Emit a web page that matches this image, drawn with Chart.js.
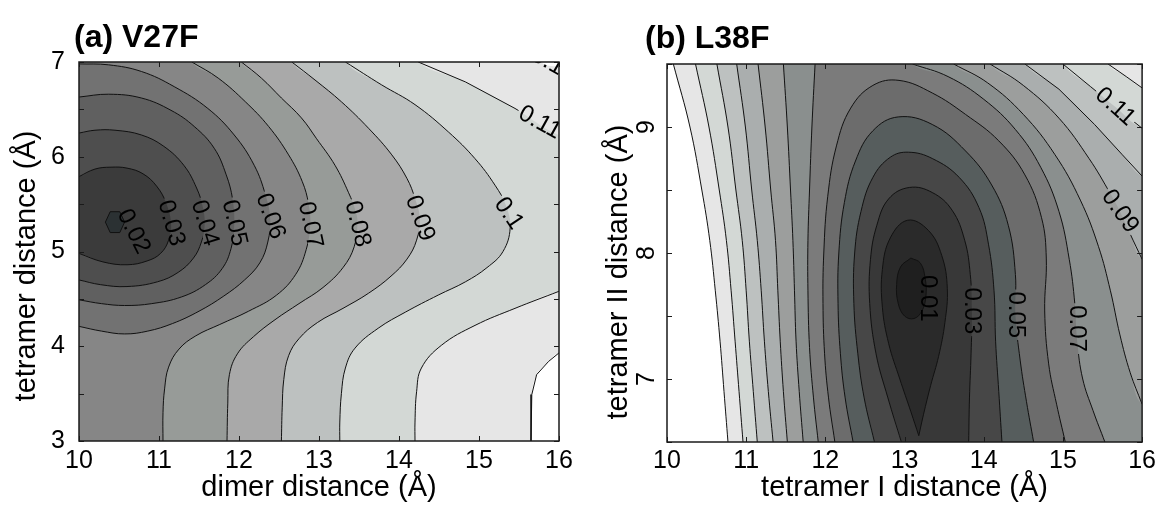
<!DOCTYPE html>
<html>
<head>
<meta charset="utf-8">
<title>V27F / L38F free-energy maps</title>
<script src="https://cdn.jsdelivr.net/npm/chart.js@4.4.1/dist/chart.umd.min.js"></script>
<style>
  html, body { margin: 0; padding: 0; background: #fff; }
  .panels { position: relative; width: 1160px; height: 505px; }
  .panels canvas { position: absolute; top: 0; }
</style>
</head>
<body>
<div class="panels">
  <canvas id="v27f" width="580" height="505" style="left:0"></canvas>
  <canvas id="l38f" width="580" height="505" style="left:580px"></canvas>
</div>
<script>
const FONT = '"Liberation Sans", Arial, Helvetica, sans-serif'

// ---- (a) V27F: dimer distance vs tetramer distance ----
const levelsA = [0.02, 0.03, 0.04, 0.05, 0.06, 0.07, 0.08, 0.09, 0.1, 0.11, 0.12]
const shadesA = ['#2b3133', '#3b3b3b', '#4e4e4e', '#606060', '#727272', '#868686',
  '#979b98', '#a9a9a9', '#bdc1c0', '#d3d8d5', '#e6e6e6']

const a02 = [[10.33, 5.31], [10.39, 5.42], [10.51, 5.42], [10.57, 5.31], [10.51, 5.2], [10.39, 5.2], [10.33, 5.31]]
const a03 = [[10, 5.79], [10.2, 5.87], [10.4, 5.89], [10.6, 5.88], [10.8, 5.82], [10.97, 5.69], [11.09, 5.51],
  [11.15, 5.3], [11.12, 5.12], [11.02, 4.98], [10.85, 4.9], [10.6, 4.86], [10.3, 4.89], [10, 4.98]]
const a04 = [[10, 6.25], [10.2, 6.28], [10.45, 6.28], [10.78, 6.23], [11.06, 6.11], [11.31, 5.91], [11.47, 5.67],
  [11.55, 5.46], [11.57, 5.28], [11.53, 5.1], [11.43, 4.93], [11.24, 4.78], [10.98, 4.68], [10.6, 4.63],
  [10.27, 4.65], [10, 4.7]]
const a05 = [[10, 6.63], [10.37, 6.66], [10.78, 6.62], [11.15, 6.49], [11.44, 6.32], [11.69, 6.09], [11.84, 5.81],
  [11.92, 5.55], [11.94, 5.28], [11.9, 5.03], [11.79, 4.82], [11.58, 4.65], [11.28, 4.52], [10.91, 4.45],
  [10.57, 4.43], [10.28, 4.45], [10, 4.49]]
const a06 = [[10, 6.98], [10.37, 6.97], [10.78, 6.9], [11.19, 6.74], [11.61, 6.51], [11.94, 6.23], [12.19, 5.91],
  [12.33, 5.6], [12.39, 5.35], [12.36, 5.1], [12.26, 4.88], [12.07, 4.7], [11.81, 4.53], [11.5, 4.37],
  [11.17, 4.24], [10.86, 4.16], [10.57, 4.13], [10.28, 4.16], [10, 4.21]]
const a07 = [[11.41, 7], [11.74, 6.83], [12.08, 6.58], [12.37, 6.32], [12.62, 6.02], [12.79, 5.74], [12.87, 5.5],
  [12.89, 5.28], [12.84, 5.02], [12.71, 4.76], [12.47, 4.54], [12.12, 4.37], [11.76, 4.23], [11.46, 4.11],
  [11.25, 3.97], [11.12, 3.78], [11.07, 3.55], [11.05, 3.3], [11.05, 3]]
const a08 = [[12.03, 7], [12.28, 6.83], [12.53, 6.62], [12.78, 6.41], [12.97, 6.19], [13.2, 5.91], [13.37, 5.62],
  [13.46, 5.42], [13.48, 5.29], [13.44, 5.05], [13.3, 4.83], [13.05, 4.62], [12.75, 4.45], [12.45, 4.28],
  [12.18, 4.1], [11.98, 3.92], [11.88, 3.7], [11.86, 3.4], [11.85, 3]]
const a09 = [[12.66, 7], [12.95, 6.81], [13.28, 6.58], [13.62, 6.3], [13.91, 6.02], [14.1, 5.77], [14.2, 5.56],
  [14.26, 5.35], [14.22, 5.12], [14.1, 4.92], [13.9, 4.74], [13.62, 4.56], [13.3, 4.4], [12.98, 4.25],
  [12.75, 4.08], [12.62, 3.9], [12.56, 3.65], [12.54, 3.35], [12.53, 3]]
const a10 = [[13.33, 7], [13.78, 6.76], [14.2, 6.55], [14.62, 6.26], [14.95, 5.98], [15.2, 5.7], [15.34, 5.48],
  [15.39, 5.25], [15.3, 5.0], [15.1, 4.83], [14.83, 4.68], [14.49, 4.54], [14.08, 4.36], [13.74, 4.19],
  [13.45, 3.98], [13.33, 3.77], [13.28, 3.5], [13.26, 3.2], [13.26, 3]]
const a11top = [[14.24, 7], [14.83, 6.79], [15.45, 6.51], [16, 6.23]]
const a11low = [[16, 4.58], [15.45, 4.4], [14.95, 4.22], [14.53, 4.01], [14.28, 3.77], [14.22, 3.52], [14.2, 3.2], [14.2, 3]]
const a12top = [[15.78, 7], [16, 6.95]]
const a12low = [[16, 3.93], [15.87, 3.84], [15.72, 3.7], [15.66, 3.49], [15.65, 3.2], [15.65, 3]]

const piecesA = [[a02], [a03], [a04], [a05], [a06], [a07], [a08], [a09], [a10], [a11top, a11low], [a12top, a12low]]

const labelTextA = ['0.02', '0.03', '0.04', '0.05', '0.06', '0.07', '0.08', '0.09', '0.1', '0.11', '0.12']
const labelAtA = [[10.68, 5.21], [11.15, 5.3], [11.57, 5.3], [11.94, 5.3], [12.39, 5.37], [12.89, 5.28],
  [13.48, 5.29], [14.26, 5.35], [15.37, 5.4], [15.76, 6.36], [15.93, 6.97]]
const labelTiltA = [63, 74, 73, 77, 70, 78, 76, 70, 56, 29, 30]

// ---- (b) L38F: tetramer I distance vs tetramer II distance ----
const levelsB = [0.01, 0.02, 0.03, 0.04, 0.05, 0.06, 0.07, 0.08, 0.09, 0.1, 0.11, 0.12, 0.13]
const shadesB = ['#1f1f1f', '#2a2a2a', '#383838', '#474747', '#565d5d', '#6c6c6c', '#7b7b7b',
  '#8a8f8e', '#9c9e9d', '#aaaeae', '#bdc1c0', '#d3d8d5', '#e6e6e6']

const b01 = [[13.08, 7.96], [13.2, 7.92], [13.26, 7.8], [13.27, 7.66], [13.22, 7.54], [13.12, 7.48], [13.0, 7.5],
  [12.92, 7.6], [12.9, 7.75], [12.95, 7.89], [13.08, 7.96]]
const b02 = [[13.18, 6.55], [13.24, 6.72], [13.33, 6.95], [13.43, 7.18], [13.51, 7.45], [13.54, 7.72], [13.47, 7.98],
  [13.3, 8.18], [13.04, 8.26], [12.82, 8.12], [12.72, 7.87], [12.72, 7.57], [12.8, 7.28], [12.94, 7.0],
  [13.08, 6.74], [13.18, 6.55]]
const b03 = [[12.96, 6.5], [12.79, 6.85], [12.64, 7.2], [12.56, 7.6], [12.57, 7.95], [12.65, 8.22], [12.8, 8.43],
  [13.06, 8.52], [13.35, 8.48], [13.6, 8.34], [13.76, 8.1], [13.83, 7.83], [13.85, 7.54], [13.84, 7.2],
  [13.82, 6.85], [13.81, 6.5]]
const b04 = [[12.62, 6.5], [12.49, 6.85], [12.41, 7.2], [12.36, 7.6], [12.37, 8.0], [12.45, 8.33], [12.6, 8.6],
  [12.82, 8.76], [13.05, 8.8], [13.35, 8.75], [13.69, 8.6], [13.94, 8.36], [14.06, 8.07], [14.13, 7.7],
  [14.15, 7.3], [14.19, 6.9], [14.23, 6.5]]
const b05 = [[12.35, 6.5], [12.25, 6.85], [12.19, 7.2], [12.16, 7.6], [12.17, 8.0], [12.24, 8.4], [12.38, 8.73],
  [12.6, 8.97], [12.92, 9.08], [13.35, 9.02], [13.77, 8.81], [14.1, 8.54], [14.31, 8.22], [14.4, 7.83],
  [14.4, 7.51], [14.46, 7.15], [14.54, 6.82], [14.63, 6.5]]
const b06 = [[12.12, 6.5], [12.04, 6.85], [11.99, 7.2], [11.97, 7.6], [11.98, 8.0], [12.03, 8.45], [12.14, 8.85],
  [12.32, 9.15], [12.6, 9.33], [12.93, 9.37], [13.35, 9.27], [13.77, 9.1], [14.19, 8.89], [14.52, 8.62],
  [14.73, 8.28], [14.79, 7.96], [14.77, 7.54], [14.82, 7.12], [14.92, 6.8], [15.03, 6.5]]
const b07left = [[11.91, 6.5], [11.85, 6.85], [11.8, 7.25], [11.78, 7.7], [11.78, 8.1], [11.8, 8.5], [11.83, 9.0], [11.87, 9.5]]
const b07right = [[13.1, 9.5], [13.55, 9.4], [14.0, 9.22], [14.4, 8.98], [14.72, 8.68], [14.95, 8.33], [15.08, 7.95],
  [15.15, 7.6], [15.18, 7.3], [15.25, 7.0], [15.38, 6.75], [15.53, 6.5]]
const b08left = [[11.72, 6.5], [11.67, 6.9], [11.63, 7.3], [11.61, 7.7], [11.59, 8.1], [11.56, 8.5], [11.52, 9.0], [11.47, 9.5]]
const b08right = [[13.62, 9.5], [14.05, 9.35], [14.5, 9.1], [14.9, 8.78], [15.22, 8.42], [15.45, 8.05], [15.6, 7.7],
  [15.72, 7.35], [15.85, 7.05], [16, 6.8]]
const b09left = [[11.52, 6.5], [11.47, 6.9], [11.43, 7.3], [11.4, 7.7], [11.37, 8.1], [11.31, 8.5], [11.24, 9.0], [11.15, 9.5]]
const b09right = [[14.08, 9.5], [14.5, 9.33], [14.95, 9.07], [15.33, 8.75], [15.6, 8.47], [15.72, 8.33], [15.85, 8.15], [16, 7.95]]
const b10left = [[11.34, 6.5], [11.28, 6.9], [11.23, 7.3], [11.19, 7.7], [11.14, 8.1], [11.07, 8.5], [10.99, 9.0], [10.88, 9.5]]
const b10right = [[14.52, 9.5], [14.95, 9.3], [15.4, 9.02], [15.75, 8.78], [16, 8.61]]
const b11left = [[11.14, 6.5], [11.09, 6.9], [11.04, 7.3], [11.0, 7.7], [10.95, 8.1], [10.87, 8.5], [10.77, 9.0], [10.63, 9.5]]
const b11right = [[15.0, 9.5], [15.35, 9.32], [15.66, 9.16], [16, 8.99]]
const b12left = [[10.96, 6.5], [10.91, 6.9], [10.86, 7.3], [10.81, 7.7], [10.75, 8.1], [10.66, 8.5], [10.53, 9.0], [10.36, 9.5]]
const b12right = [[15.57, 9.5], [15.8, 9.4], [16, 9.31]]
const b13left = [[10.77, 6.5], [10.72, 6.9], [10.67, 7.3], [10.61, 7.7], [10.54, 8.1], [10.44, 8.5], [10.29, 9.0], [10.08, 9.5]]

const piecesB = [[b01], [b02], [b03], [b04], [b05], [b06], [b07left, b07right], [b08left, b08right],
  [b09left, b09right], [b10left, b10right], [b11left, b11right], [b12left, b12right], [b13left]]

const labelTextB = ['0.01', '0.03', '0.05', '0.07', '0.09', '0.11']
const labelAtB = [[13.29, 7.64], [13.85, 7.54], [14.4, 7.51], [15.17, 7.4], [15.72, 8.33], [15.66, 9.16]]
const labelTiltB = [90, 90, 90, 90, 55, 42]

// ---- contour regions ----
// Position along the frame, clockwise from the lower-left corner (0..4).
function edgeParam([x, y], { x0, x1, y0, y1 }) {
  if (x === x0) return (y - y0) / (y1 - y0)
  if (y === y1) return 1 + (x - x0) / (x1 - x0)
  if (x === x1) return 2 + (y1 - y) / (y1 - y0)
  return 3 + (x1 - x) / (x1 - x0)
}

function pushOut([x, y], { x0, x1, y0, y1 }) {
  const mx = (x1 - x0) * 0.05
  const my = (y1 - y0) * 0.05
  if (x === x0) return [x0 - mx, y]
  if (y === y1) return [x, y1 + my]
  if (x === x1) return [x1 + mx, y]
  return [x, y0 - my]
}

function cornerOut(c, { x0, x1, y0, y1 }) {
  const mx = (x1 - x0) * 0.05
  const my = (y1 - y0) * 0.05
  return [[x0 - mx, y0 - my], [x0 - mx, y1 + my], [x1 + mx, y1 + my], [x1 + mx, y0 - my]][c]
}

function isClosed(p) {
  const a = p[0]
  const b = p[p.length - 1]
  return p.length > 2 && a[0] === b[0] && a[1] === b[1]
}

// Everything below a level. Open pieces run with the low side on their right,
// so each outline carries on clockwise along the frame to the next piece.
function regionOf(pieces, box) {
  const polys = pieces.filter(isClosed).map(p => p.slice())
  const open = pieces.filter(p => !isClosed(p))
  const used = new Set()
  open.forEach((_, i) => {
    if (used.has(i)) return
    const poly = []
    let k = i
    while (!used.has(k)) {
      used.add(k)
      const piece = open[k]
      const end = piece[piece.length - 1]
      poly.push(pushOut(piece[0], box), ...piece, pushOut(end, box))
      const s = edgeParam(end, box)
      let next = k
      let gap = 4
      open.forEach((q, j) => {
        const d = (edgeParam(q[0], box) - s + 4) % 4
        if (d < gap) { gap = d; next = j }
      })
      for (let c = Math.floor(s) + 1; c < s + gap; c++) poly.push(cornerOut(c % 4, box))
      k = next
    }
    polys.push(poly)
  })
  return polys
}

// ---- plugins ----
// Inline contour labels: the matching line is cut where its label sits.
function labelPlugin(text, at, tilt) {
  const boxes = chart => {
    const { ctx, scales: { x, y } } = chart
    ctx.save()
    ctx.font = `24px ${FONT}`
    const out = text.map((t, i) => ({
      text: t,
      level: parseFloat(t),
      cx: x.getPixelForValue(at[i][0]),
      cy: y.getPixelForValue(at[i][1]),
      angle: tilt[i] * Math.PI / 180,
      w: ctx.measureText(t).width + 4,
    }))
    ctx.restore()
    return out
  }
  let clipped = false

  return {
    id: 'contourLabels',
    beforeDatasetDraw(chart, args) {
      const ds = chart.data.datasets[args.index]
      clipped = false
      if (ds.fill === 'shape' || ds.closed) return
      const cuts = boxes(chart).filter(b => b.level === ds.level)
      if (!cuts.length) return
      const { ctx, width, height } = chart
      ctx.save()
      ctx.beginPath()
      ctx.rect(0, 0, width, height)
      for (const b of cuts) {
        const c = Math.cos(b.angle)
        const s = Math.sin(b.angle)
        const hw = b.w / 2
        const hh = 6
        const pts = [[-hw, -hh], [hw, -hh], [hw, hh], [-hw, hh]]
          .map(([u, v]) => [b.cx + u * c - v * s, b.cy + u * s + v * c])
        ctx.moveTo(pts[0][0], pts[0][1])
        pts.slice(1).forEach(p => ctx.lineTo(p[0], p[1]))
        ctx.closePath()
      }
      ctx.clip('evenodd')
      clipped = true
    },
    afterDatasetDraw(chart) {
      if (clipped) chart.ctx.restore()
      clipped = false
    },
    afterDatasetsDraw(chart) {
      const { ctx, chartArea: area } = chart
      ctx.save()
      ctx.beginPath()
      ctx.rect(area.left, area.top, area.width, area.height)
      ctx.clip()
      ctx.font = `24px ${FONT}`
      ctx.fillStyle = '#000'
      ctx.textAlign = 'center'
      ctx.textBaseline = 'middle'
      for (const b of boxes(chart)) {
        ctx.save()
        ctx.translate(b.cx, b.cy)
        ctx.rotate(b.angle)
        ctx.fillText(b.text, 0, 0)
        ctx.restore()
      }
      ctx.restore()
    },
  }
}

// box around the plot with inward ticks on all four sides
const frame = {
  id: 'frame',
  afterDatasetsDraw(chart) {
    const { ctx, chartArea: a, scales: { x, y } } = chart
    const len = 5
    ctx.save()
    ctx.strokeStyle = '#1a1a1a'
    ctx.lineWidth = 1
    ctx.beginPath()
    for (const t of x.ticks) {
      const px = Math.round(x.getPixelForValue(t.value)) + 0.5
      ctx.moveTo(px, a.bottom)
      ctx.lineTo(px, a.bottom - len)
      ctx.moveTo(px, a.top)
      ctx.lineTo(px, a.top + len)
    }
    for (const t of y.ticks) {
      const py = Math.round(y.getPixelForValue(t.value)) + 0.5
      ctx.moveTo(a.left, py)
      ctx.lineTo(a.left + len, py)
      ctx.moveTo(a.right, py)
      ctx.lineTo(a.right - len, py)
    }
    ctx.stroke()
    ctx.lineWidth = 1.5
    ctx.strokeRect(a.left, a.top, a.right - a.left, a.bottom - a.top)
    ctx.restore()
  },
}

// panel heading and the vertical axis title (which sits a little below the plot's middle)
function textPlugin(panel) {
  return {
    id: 'panelText',
    afterDraw(chart) {
      const { ctx } = chart
      ctx.save()
      ctx.fillStyle = '#000'
      ctx.font = `bold 32px ${FONT}`
      ctx.textBaseline = 'alphabetic'
      ctx.fillText(panel.title, panel.titleLeft, panel.titleBaseline)

      ctx.font = `29px ${FONT}`
      ctx.textAlign = 'center'
      ctx.textBaseline = 'middle'
      ctx.translate(panel.yTitleAt[0], panel.yTitleAt[1])
      ctx.rotate(-Math.PI / 2)
      ctx.fillText(panel.yTitle, 0, 0)
      ctx.restore()
    },
  }
}

// ---- charts ----
function contourChart(canvasId, panel) {
  const [x0, x1] = panel.xRange
  const [y0, y1] = panel.yRange
  const box = { x0, x1, y0, y1 }
  const strokes = []
  const fills = []

  panel.levels.forEach((level, i) => {
    for (const poly of regionOf(panel.pieces[i], box)) {
      fills.push({
        label: `below ${level}`,
        data: poly.map(([x, y]) => ({ x, y })),
        fill: 'shape',
        backgroundColor: panel.shades[i],
        borderColor: 'transparent',
        borderWidth: 0,
        tension: poly.length > 8 ? 0.4 : 0,
      })
    }
    for (const piece of panel.pieces[i]) {
      strokes.push({
        label: String(level),
        level,
        closed: isClosed(piece),
        data: piece.map(([x, y]) => ({ x, y })),
        fill: false,
        borderColor: '#111',
        borderWidth: 1,
        tension: piece.length > 7 ? 0.4 : 0,
      })
    }
  })

  const tickFont = { family: FONT, size: 25 }
  const titleFont = { family: FONT, size: 29 }

  return new Chart(document.getElementById(canvasId), {
    type: 'line',
    data: { datasets: [...strokes, ...fills] },
    options: {
      responsive: false,
      animation: false,
      events: [],
      devicePixelRatio: 1,
      layout: { padding: panel.padding },
      elements: { point: { radius: 0, hitRadius: 0 } },
      plugins: { legend: { display: false }, tooltip: { enabled: false } },
      scales: {
        x: {
          type: 'linear',
          min: x0,
          max: x1,
          grid: { display: false, drawTicks: false },
          border: { display: false },
          ticks: { stepSize: 1, autoSkip: false, maxRotation: 0, padding: panel.xTickPad, color: '#000', font: tickFont },
          title: { display: true, text: panel.xTitle, color: '#000', font: titleFont, padding: { top: 0, bottom: 0 } },
          afterFit: scale => { scale.height = panel.xAxisHeight },
        },
        y: {
          type: 'linear',
          min: y0,
          max: y1,
          grid: { display: false, drawTicks: false },
          border: { display: false },
          ticks: {
            stepSize: 0.5,
            autoSkip: false,
            padding: panel.yTickPad,
            minRotation: panel.yTickTurn,
            maxRotation: panel.yTickTurn,
            crossAlign: panel.yTickTurn ? 'center' : 'near',
            color: '#000',
            font: tickFont,
            callback: v => (Number.isInteger(v) ? String(v) : ''),
          },
          title: { display: false },
          afterFit: scale => { scale.width = panel.yAxisWidth },
        },
      },
    },
    plugins: [labelPlugin(panel.labelText, panel.labelAt, panel.labelTilt), frame, textPlugin(panel)],
  })
}

contourChart('v27f', {
  title: '(a) V27F', titleLeft: 74, titleBaseline: 47,
  xRange: [10, 16], yRange: [3, 7],
  xTitle: 'dimer distance (Å)', yTitle: 'tetramer distance (Å)', yTitleAt: [27, 266],
  levels: levelsA, shades: shadesA, pieces: piecesA,
  labelText: labelTextA, labelAt: labelAtA, labelTilt: labelTiltA,
  padding: { top: 62, right: 21, left: 0, bottom: 0 },
  yAxisWidth: 79, xAxisHeight: 64,
  xTickPad: 5, yTickPad: 14, yTickTurn: 0,
})

contourChart('l38f', {
  title: '(b) L38F', titleLeft: 65, titleBaseline: 48,
  xRange: [10, 16], yRange: [6.5, 9.5],
  xTitle: 'tetramer I distance (Å)', yTitle: 'tetramer II distance (Å)', yTitleAt: [39, 272],
  levels: levelsB, shades: shadesB, pieces: piecesB,
  labelText: labelTextB, labelAt: labelAtB, labelTilt: labelTiltB,
  padding: { top: 64, right: 16, left: 0, bottom: 0 },
  yAxisWidth: 87, xAxisHeight: 63,
  xTickPad: 4, yTickPad: 13, yTickTurn: 90,
})
</script>
</body>
</html>
